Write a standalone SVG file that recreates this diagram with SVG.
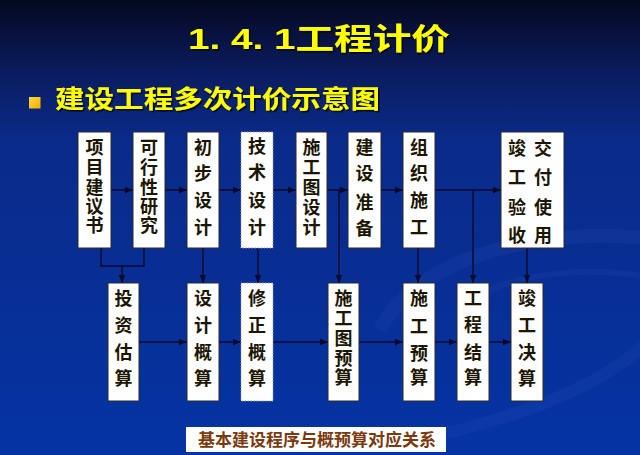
<svg xmlns="http://www.w3.org/2000/svg" width="640" height="455" viewBox="0 0 640 455">
<defs>
<linearGradient id="bg" x1="0" y1="0" x2="0" y2="1">
<stop offset="0" stop-color="#040820"/>
<stop offset="0.14" stop-color="#0a1a58"/>
<stop offset="0.3" stop-color="#0a2a88"/>
<stop offset="1" stop-color="#0534a4"/>
</linearGradient>
<linearGradient id="bul" x1="0" y1="0" x2="1" y2="1">
<stop offset="0" stop-color="#ffd840"/>
<stop offset="1" stop-color="#f0b000"/>
</linearGradient>
<marker id="ah" markerUnits="userSpaceOnUse" markerWidth="8" markerHeight="8" viewBox="0 0 8 8" refX="8" refY="4" orient="auto">
<path d="M0,0.8 L8,4 L0,7.2 Z" fill="#0a0a30"/>
</marker>
<filter id="sh" x="-10%" y="-10%" width="130%" height="140%">
<feDropShadow dx="1.5" dy="1.5" stdDeviation="0.6" flood-color="#000" flood-opacity="0.8"/>
</filter>
</defs>
<style>
.box{fill:#ffffff;stroke:#2a2a2a;stroke-width:1}
.dot{fill:#ffffff;stroke:#9a9a9a;stroke-width:1;stroke-dasharray:1.5 1.5}
.t{font-family:"Liberation Sans","Noto Sans CJK SC",sans-serif;font-size:18px;font-weight:bold;fill:#1c1600;text-anchor:middle}
.ln{stroke:#0a0a30;stroke-width:1.5;fill:none}
.ar{stroke:#0a0a30;stroke-width:1.5;fill:none;marker-end:url(#ah)}
.hd{font-family:"Liberation Sans","Noto Sans CJK SC",sans-serif;font-weight:bold;fill:#ffff00}
</style>
<rect x="0" y="0" width="640" height="455" fill="url(#bg)"/>
<g fill="none" stroke="#3a5ec8" stroke-opacity="0.13">
<path d="M380,330 C420,250 560,225 660,240" stroke-width="14"/>
<path d="M420,440 C500,420 600,395 660,330" stroke-width="12"/>
<path d="M470,300 C520,270 600,265 660,280" stroke-width="6"/>
</g>
<g id="title">
<text class="hd" x="188" y="49" font-size="30" textLength="262" lengthAdjust="spacingAndGlyphs" filter="url(#sh)">1. 4. 1工程计价</text>
</g>
<g id="subtitle">
<rect x="29" y="97" width="11.5" height="11.5" fill="url(#bul)"/>
<text class="hd" x="55" y="108" font-size="25" textLength="325" lengthAdjust="spacingAndGlyphs" filter="url(#sh)">建设工程多次计价示意图</text>
</g>
<g id="connectors">
<path class="ar" d="M111,190 H133"/>
<path class="ar" d="M165,190 H187"/>
<path class="ar" d="M219,190 H241"/>
<path class="ar" d="M273,190 H296"/>
<path class="ar" d="M327,190 H348"/>
<path class="ar" d="M381,190 H403"/>
<path class="ar" d="M435,190 H501"/>
<path class="ar" d="M139,342 H187"/>
<path class="ar" d="M219,342 H241"/>
<path class="ar" d="M273,342 H328"/>
<path class="ar" d="M359,342 H403"/>
<path class="ar" d="M435,342 H457"/>
<path class="ar" d="M489,342 H511"/>
<path class="ln" d="M101,248 V266 H144 V248"/>
<path class="ar" d="M122,266 V283"/>
<path class="ar" d="M203,248 V283"/>
<path class="ar" d="M258,248 V283"/>
<path class="ar" d="M339,190 V283"/>
<path class="ar" d="M418,248 V283"/>
<path class="ar" d="M473,190 V283"/>
<path class="ar" d="M527,248 V283"/>
</g>
<g id="n1"><rect class="box" x="78" y="132" width="33" height="116"/>
<text class="t"><tspan x="94.5" y="154">项</tspan><tspan x="94.5" y="174">目</tspan><tspan x="94.5" y="194">建</tspan><tspan x="94.5" y="213">议</tspan><tspan x="94.5" y="232">书</tspan></text></g>
<g id="n2"><rect class="box" x="133" y="132" width="32" height="116"/>
<text class="t"><tspan x="149" y="154">可</tspan><tspan x="149" y="174">行</tspan><tspan x="149" y="194">性</tspan><tspan x="149" y="213">研</tspan><tspan x="149" y="232">究</tspan></text></g>
<g id="n3"><rect class="box" x="187" y="132" width="32" height="116"/>
<text class="t"><tspan x="203" y="154">初</tspan><tspan x="203" y="180">步</tspan><tspan x="203" y="207">设</tspan><tspan x="203" y="234">计</tspan></text></g>
<g id="n4"><rect class="dot" x="241" y="132" width="32" height="116"/>
<text class="t"><tspan x="257" y="153">技</tspan><tspan x="257" y="179">术</tspan><tspan x="257" y="207">设</tspan><tspan x="257" y="234">计</tspan></text></g>
<g id="n5"><rect class="box" x="296" y="132" width="31" height="116"/>
<text class="t"><tspan x="311.5" y="154">施</tspan><tspan x="311.5" y="174">工</tspan><tspan x="311.5" y="194">图</tspan><tspan x="311.5" y="214">设</tspan><tspan x="311.5" y="234">计</tspan></text></g>
<g id="n6"><rect class="box" x="348" y="132" width="33" height="116"/>
<text class="t"><tspan x="364.5" y="154">建</tspan><tspan x="364.5" y="180">设</tspan><tspan x="364.5" y="209">准</tspan><tspan x="364.5" y="235">备</tspan></text></g>
<g id="n7"><rect class="box" x="403" y="132" width="32" height="116"/>
<text class="t"><tspan x="419" y="154">组</tspan><tspan x="419" y="180">织</tspan><tspan x="419" y="207">施</tspan><tspan x="419" y="234">工</tspan></text></g>
<g id="n8"><rect class="box" x="501" y="132" width="63" height="116"/>
<text class="t"><tspan x="517" y="155">竣</tspan><tspan x="517" y="184">工</tspan><tspan x="517" y="214">验</tspan><tspan x="517" y="242">收</tspan></text>
<text class="t"><tspan x="543" y="155">交</tspan><tspan x="543" y="184">付</tspan><tspan x="543" y="214">使</tspan><tspan x="543" y="242">用</tspan></text></g>
<g id="m1"><rect class="box" x="108" y="283" width="31" height="118"/>
<text class="t"><tspan x="123.5" y="305">投</tspan><tspan x="123.5" y="332">资</tspan><tspan x="123.5" y="359">估</tspan><tspan x="123.5" y="385">算</tspan></text></g>
<g id="m2"><rect class="box" x="187" y="283" width="32" height="118"/>
<text class="t"><tspan x="203" y="305">设</tspan><tspan x="203" y="332">计</tspan><tspan x="203" y="359">概</tspan><tspan x="203" y="385">算</tspan></text></g>
<g id="m3"><rect class="dot" x="241" y="283" width="32" height="118"/>
<text class="t"><tspan x="257" y="305">修</tspan><tspan x="257" y="332">正</tspan><tspan x="257" y="359">概</tspan><tspan x="257" y="385">算</tspan></text></g>
<g id="m4"><rect class="box" x="328" y="283" width="31" height="118"/>
<text class="t"><tspan x="343.5" y="305">施</tspan><tspan x="343.5" y="325">工</tspan><tspan x="343.5" y="345">图</tspan><tspan x="343.5" y="365">预</tspan><tspan x="343.5" y="384">算</tspan></text></g>
<g id="m5"><rect class="box" x="403" y="283" width="32" height="118"/>
<text class="t"><tspan x="419" y="305">施</tspan><tspan x="419" y="333">工</tspan><tspan x="419" y="360">预</tspan><tspan x="419" y="384">算</tspan></text></g>
<g id="m6"><rect class="box" x="457" y="283" width="32" height="118"/>
<text class="t"><tspan x="473" y="305">工</tspan><tspan x="473" y="331">程</tspan><tspan x="473" y="359">结</tspan><tspan x="473" y="384">算</tspan></text></g>
<g id="m7"><rect class="box" x="511" y="283" width="32" height="118"/>
<text class="t"><tspan x="527" y="305">竣</tspan><tspan x="527" y="332">工</tspan><tspan x="527" y="359">决</tspan><tspan x="527" y="385">算</tspan></text></g>
<g id="caption"><rect x="186" y="427" width="260" height="25" fill="#ffffff"/>
<text x="317" y="446" font-family="'Liberation Sans','Noto Sans CJK SC',sans-serif" font-size="17" font-weight="bold" fill="#7a3a0e" text-anchor="middle">基本建设程序与概预算对应关系</text></g>
</svg>
